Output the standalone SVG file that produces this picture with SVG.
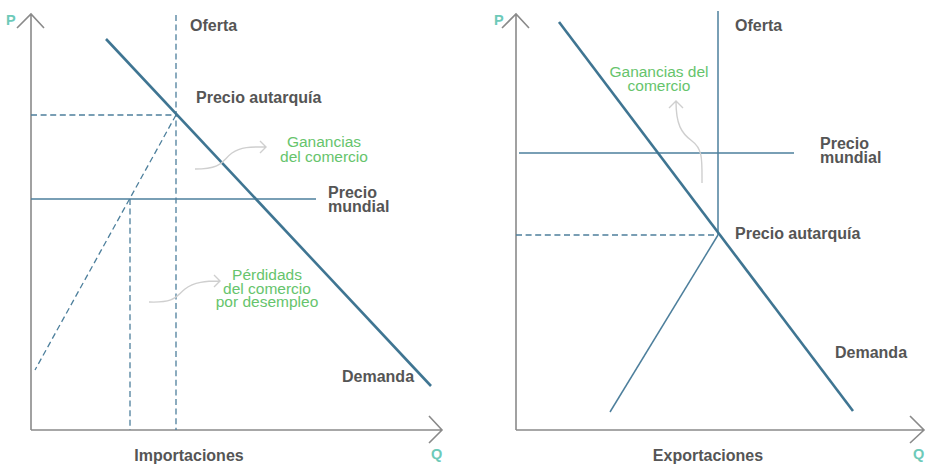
<svg xmlns="http://www.w3.org/2000/svg" width="930" height="464" viewBox="0 0 930 464">
<style>
.axis{stroke:#8a8a8a;stroke-width:1.6;fill:none}
.dem{stroke:#3f7592;stroke-width:2.6;fill:none;stroke-linecap:butt}
.ln{stroke:#4d7f9c;stroke-width:1.5;fill:none}
.dash{stroke:#4d7f9c;stroke-width:1.3;fill:none;stroke-dasharray:6 3.6}
.note{stroke:#cfcfcf;stroke-width:1.4;fill:none}
.lbl{font-family:"Liberation Sans",Arial,sans-serif;font-weight:bold;font-size:16px;fill:#555555}
.grn{font-family:"Liberation Sans",Arial,sans-serif;font-size:15.5px;fill:#66c46c;text-anchor:middle}
.ax{font-family:"Liberation Sans",Arial,sans-serif;font-weight:bold;font-size:14.5px;fill:#6dcab9}
</style>
<rect width="930" height="464" fill="#ffffff"/>

<g id="left-axes">
<path class="axis" d="M31,430 V14 M17,28 L31,14 L44,28"/>
<path class="axis" d="M31,430 H442 M429,416 L442,430 L429,443"/>
<text class="ax" x="6" y="25">P</text>
<text class="ax" x="431" y="459">Q</text>
<text class="lbl" x="189" y="461" text-anchor="middle">Importaciones</text>
</g>

<g id="left-connectors">
<line class="dash" x1="176" y1="15" x2="176" y2="430"/>
<line class="dash" x1="31" y1="115" x2="176" y2="115"/>
<line class="dash" x1="176" y1="115" x2="35" y2="370"/>
<line class="dash" x1="130" y1="199" x2="130" y2="430"/>
<line class="ln" x1="31" y1="199" x2="316" y2="199"/>
<line class="dem" x1="106" y1="39" x2="431" y2="386"/>
<path class="note" d="M195,169 C224,169 222,160 232,153 C242,146 254,147 266,147 M260,141 L266,147 L260,153"/>
<path class="note" d="M149,302 C176,303 176,296 185,289 C194,282 206,281 220,281 M214,275 L220,281 L214,287"/>
</g>

<g id="left-oferta"><text class="lbl" x="190" y="31">Oferta</text></g>
<g id="left-autarquia"><text class="lbl" x="196" y="103">Precio autarquía</text></g>
<g id="left-mundial"><text class="lbl" x="328" y="198">Precio</text><text class="lbl" x="328" y="212">mundial</text></g>
<g id="left-demanda"><text class="lbl" x="342" y="382">Demanda</text></g>
<g id="left-ganancias"><text class="grn" x="324" y="147">Ganancias</text><text class="grn" x="324" y="162">del comercio</text></g>
<g id="left-perdidas"><text class="grn" x="267" y="280">Pérdidads</text><text class="grn" x="267" y="293.5">del comercio</text><text class="grn" x="267" y="307">por desempleo</text></g>

<g id="right-axes">
<path class="axis" d="M516,430 V14 M502,28 L516,14 L529,28"/>
<path class="axis" d="M516,430 H924 M910,416 L924,430 L910,443"/>
<text class="ax" x="494" y="25">P</text>
<text class="ax" x="913" y="459">Q</text>
<text class="lbl" x="708" y="461" text-anchor="middle">Exportaciones</text>
</g>

<g id="right-connectors">
<line class="ln" x1="718" y1="11" x2="718" y2="235"/>
<line class="ln" x1="519" y1="153" x2="794" y2="153"/>
<line class="dash" x1="516" y1="235" x2="716" y2="235"/>
<line class="ln" x1="718" y1="235" x2="610" y2="412"/>
<line class="dem" x1="559" y1="22" x2="853" y2="411"/>
<path class="note" d="M702,183 C702,160 703,149 692,141 C681,133 676,124 676,101 M669,108 L676,101 L683,108"/>
</g>

<g id="right-oferta"><text class="lbl" x="735" y="31">Oferta</text></g>
<g id="right-ganancias"><text class="grn" x="659" y="77">Ganancias del</text><text class="grn" x="659" y="90.5">comercio</text></g>
<g id="right-mundial"><text class="lbl" x="820" y="149">Precio</text><text class="lbl" x="820" y="163">mundial</text></g>
<g id="right-autarquia"><text class="lbl" x="735" y="239">Precio autarquía</text></g>
<g id="right-demanda"><text class="lbl" x="835" y="358">Demanda</text></g>
</svg>
